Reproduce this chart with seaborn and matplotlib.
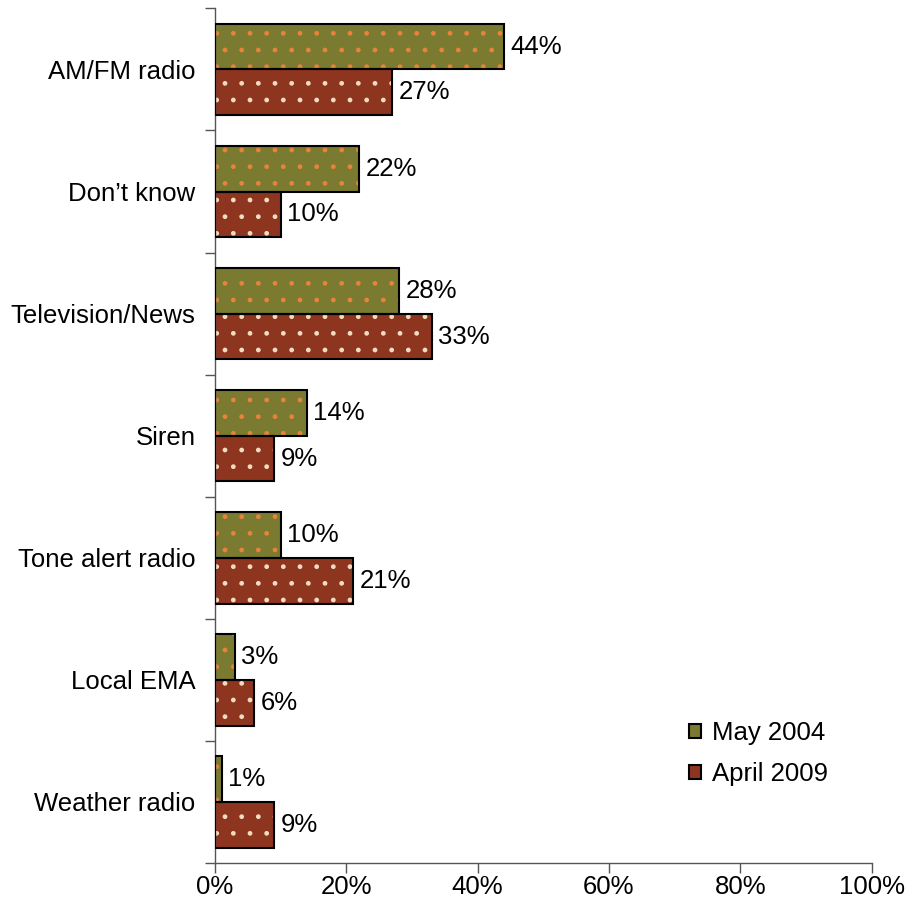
import pandas as pd
import matplotlib
matplotlib.use("Agg")
import matplotlib.pyplot as plt
import seaborn as sns
from matplotlib.patches import Rectangle
from matplotlib.ticker import FuncFormatter, FixedLocator

# data
categories = ["AM/FM radio", "Don\u2019t know", "Television/News", "Siren",
              "Tone alert radio", "Local EMA", "Weather radio"]
may_2004 = [44, 22, 28, 14, 10, 3, 1]
april_2009 = [27, 10, 33, 9, 21, 6, 9]
series = ["May 2004", "April 2009"]

colors = {"May 2004": "#7a7a30", "April 2009": "#8e3520"}
dot_colors = {"May 2004": "#e8833a", "April 2009": "#f3dcc0"}

df = pd.DataFrame({
    "category": categories * 2,
    "value": may_2004 + april_2009,
    "series": [series[0]] * len(categories) + [series[1]] * len(categories),
})

sns.set_style("white")
plt.rcParams["font.family"] = ["Liberation Sans", "DejaVu Sans"]
plt.rcParams["hatch.linewidth"] = 1.0
plt.rcParams["text.color"] = "black"
plt.rcParams["xtick.color"] = "black"
plt.rcParams["ytick.color"] = "black"
fs = 18.5

fig = plt.figure(figsize=(9.07, 9.14), dpi=100)
ax = fig.add_axes([0.237, 0.0558, 0.724, 0.935])

sns.barplot(data=df, x="value", y="category", hue="series", order=categories,
            hue_order=series, palette=colors, orient="h", width=0.75,
            ax=ax, legend=False, saturation=1)

# recolour bars: dotted fill plus black outline
n = len(categories)
for i, p in enumerate(ax.patches[:2 * n]):
    s = series[i // n]
    p.set_hatch(".")
    p.set_edgecolor(dot_colors[s])
    p.set_linewidth(0)
    x0, y0 = p.get_xy()
    ax.add_patch(Rectangle((x0, y0), p.get_width(), p.get_height(),
                           fill=False, edgecolor="black", linewidth=1.5, zorder=3))
    ax.text(p.get_width() + 1.0, y0 + p.get_height() / 2, f"{int(p.get_width())}%",
            va="center", ha="left", fontsize=fs, color="black")

ax.set_xlim(0, 100)
ax.set_ylim(n - 0.5, -0.5)
ax.set_xticks([0, 20, 40, 60, 80, 100])
ax.xaxis.set_major_formatter(FuncFormatter(lambda v, _: f"{int(v)}%"))
ax.yaxis.set_minor_locator(FixedLocator([i - 0.5 for i in range(n + 1)]))
ax.tick_params(axis="y", which="major", length=0, labelsize=fs, pad=14)
ax.tick_params(axis="y", which="minor", length=7, width=1, color="#555555", left=True)
ax.tick_params(axis="x", which="major", length=7, width=1, color="#555555",
               bottom=True, labelsize=fs, pad=2)
ax.set_xlabel("")
ax.set_ylabel("")
for side in ["top", "right"]:
    ax.spines[side].set_visible(False)
for side in ["left", "bottom"]:
    ax.spines[side].set_color("#555555")
    ax.spines[side].set_linewidth(1)

handles = [Rectangle((0, 0), 1, 1, facecolor=colors[s], edgecolor="black",
                     linewidth=1.5) for s in series]
ax.legend(handles, series, loc="center left", bbox_to_anchor=(0.687, 0.128),
          frameon=False, fontsize=fs, handlelength=0.47, handleheight=0.47,
          handletextpad=0.4, labelspacing=0.65)

fig.savefig("out.png", dpi=100)
